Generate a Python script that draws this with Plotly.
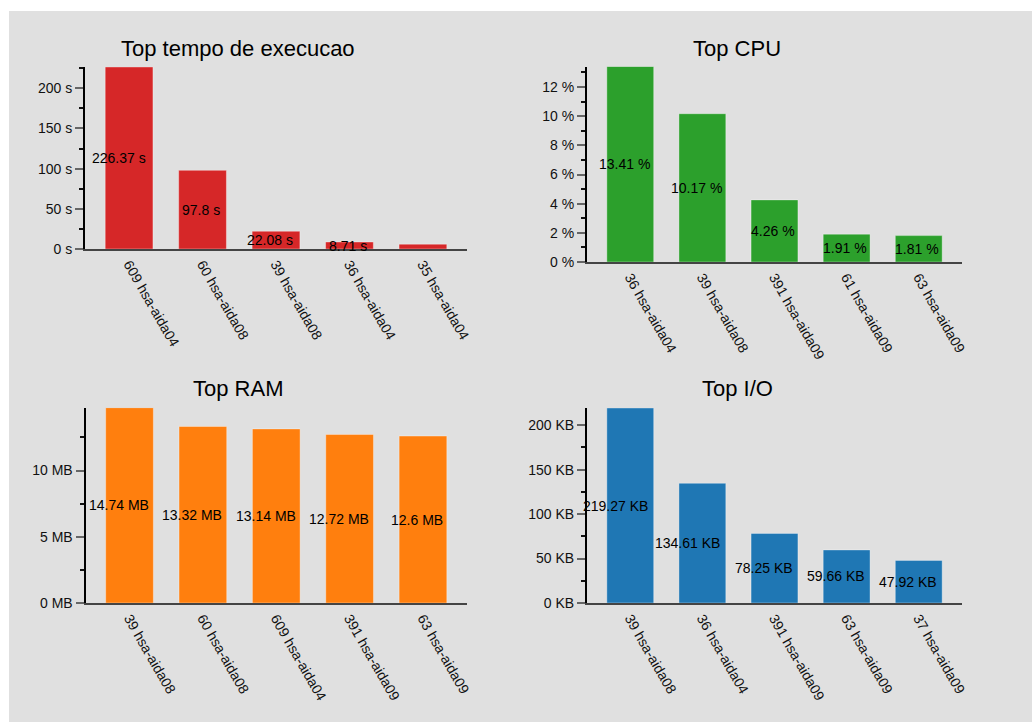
import plotly.graph_objects as go

# ---- data -------------------------------------------------------------
exec_jobs = ["609 hsa-aida04", "60 hsa-aida08", "39 hsa-aida08", "36 hsa-aida04", "35 hsa-aida04"]
exec_secs = [226.37, 97.8, 22.08, 8.71, 6.0]
exec_labeled = 4  # only the first four bars carry a value label

cpu_jobs = ["36 hsa-aida04", "39 hsa-aida08", "391 hsa-aida09", "61 hsa-aida09", "63 hsa-aida09"]
cpu_pct = [13.41, 10.17, 4.26, 1.91, 1.81]

ram_jobs = ["39 hsa-aida08", "60 hsa-aida08", "609 hsa-aida04", "391 hsa-aida09", "63 hsa-aida09"]
ram_mb = [14.74, 13.32, 13.14, 12.72, 12.6]

io_jobs = ["39 hsa-aida08", "36 hsa-aida04", "391 hsa-aida09", "63 hsa-aida09", "37 hsa-aida09"]
io_kb = [219.27, 134.61, 78.25, 59.66, 47.92]

W, H = 1033, 722
FONT = "Liberation Sans, Arial, Helvetica, sans-serif"


def xdom(left, right):
    return [left / W, right / W]


def ydom(top, bottom):
    return [1 - bottom / H, 1 - top / H]


panels = [
    # title, jobs, values, unit suffix, colour, tick step, x px, y px, labelled count
    ("Top tempo de execucao", exec_jobs, exec_secs, " s", "#d62728", 50, (85, 467), (67, 249), exec_labeled),
    ("Top CPU", cpu_jobs, cpu_pct, " %", "#2ca02c", 2, (587, 962), (66.5, 262), len(cpu_pct)),
    ("Top RAM", ram_jobs, ram_mb, " MB", "#ff7f0e", 5, (85.5, 467), (407.7, 603), len(ram_mb)),
    ("Top I/O", io_jobs, io_kb, " KB", "#1f77b4", 50, (587, 962), (408, 603), len(io_kb)),
]

fig = go.Figure()
annotations = []
layout_axes = {}

for k, (title, jobs, vals, unit, color, step, xpx, ypx, nlab) in enumerate(panels, start=1):
    xa = "x" if k == 1 else f"x{k}"
    ya = "y" if k == 1 else f"y{k}"
    fig.add_trace(go.Bar(
        x=jobs, y=vals, xaxis=xa, yaxis=ya,
        width=0.65, marker=dict(color=color, line=dict(color="rgba(255,255,255,0.35)", width=1)),
        showlegend=False, hoverinfo="x+y",
    ))
    layout_axes[f"xaxis{'' if k == 1 else k}"] = dict(
        domain=xdom(*xpx), anchor=ya, type="category", range=[-0.6, 4.6],
        showline=True, linecolor="#444", linewidth=1.5, ticks="", showgrid=False,
        zeroline=False, tickangle=60, automargin=False,
        tickfont=dict(family=FONT, size=14, color="#111"),
    )
    layout_axes[f"yaxis{'' if k == 1 else k}"] = dict(
        domain=ydom(*ypx), anchor=xa, range=[0, max(vals)],
        showline=True, linecolor="black", linewidth=2, showgrid=False, zeroline=False,
        ticks="outside", ticklen=8, tickwidth=1.5, tickcolor="#666", dtick=step, tick0=0,
        ticksuffix=unit, automargin=False,
        tickfont=dict(family=FONT, size=14, color="#111"),
        minor=dict(ticks="outside", ticklen=4, tickwidth=1.5, tickcolor="#111", dtick=step / 2, tick0=0, showgrid=False),
    )
    # value labels at half bar height; longer labels sit a little further left
    for i in range(nlab):
        label = f"{vals[i]:g}{unit}"
        annotations.append(dict(
            xref=xa, yref=ya, x=jobs[i], y=vals[i] / 2, text=label,
            showarrow=False, xshift=-4.5 * (len(label) - 6) - 1.5,
            font=dict(family=FONT, size=14, color="black"),
        ))
    # panel title
    cx = 238 if xpx[0] < 300 else 737
    cy = 48 if ypx[1] < 300 else 388
    annotations.append(dict(
        xref="paper", yref="paper", x=cx / W, y=1 - cy / H, text=title, showarrow=False,
        xanchor="center", yanchor="middle", font=dict(family=FONT, size=22, color="black"),
    ))

fig.update_layout(
    width=W, height=H,
    margin=dict(l=0, r=0, t=0, b=0),
    paper_bgcolor="white", plot_bgcolor="rgba(0,0,0,0)",
    annotations=annotations,
    shapes=[dict(type="rect", xref="paper", yref="paper", x0=9 / W, x1=1032 / W, y0=0, y1=1 - 11 / H,
                 fillcolor="#e0e0e0", line=dict(width=0), layer="below")],
    **layout_axes,
)

fig.write_html("out.html")
